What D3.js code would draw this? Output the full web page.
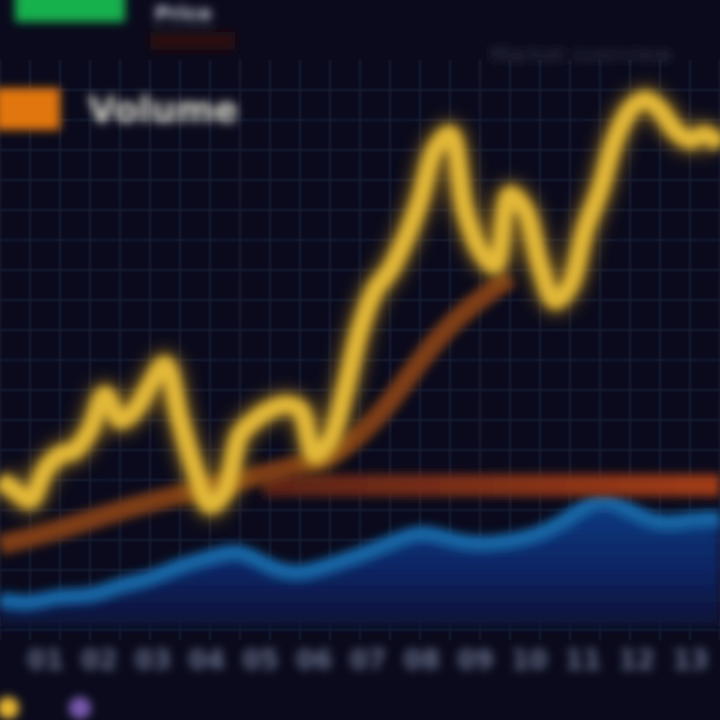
<!DOCTYPE html>
<html><head><meta charset="utf-8">
<script src="https://cdn.jsdelivr.net/npm/d3@7"></script>
<style>html,body{margin:0;padding:0;background:#08081a;}svg{display:block;}</style>
</head><body>
<script>
// ---- data ----
const priceValues = [33.3,31.9,30.6,34.7,36.8,37.5,40.3,45.1,41.7,43.1,46.5,49.3,41.7,34.7,29.9,31.9,39.6,41.7,43.1,43.8,43.1,36.8,38.9,45.8,54.2,59.7,62.5,66.7,72.2,79.2,81.3,70.8,65.3,63.2,72.9,70.8,63.2,58.3,60.4,68.1,73.6,80.6,84.7,86.1,84.7,81.9,80.6,81.3,79.9];
const maIndex = [0,4,8,12,16,20,22,24,26,28,30,32,34];
const maValues = [24.3,26.4,29.2,31.3,33.3,35.4,36.5,39.5,44.0,50.0,55.0,58.5,61.5];
const volIndex = [0,2,4,6,8,10,12,14,16,18,20,22,24,26,28,30,32,34,36,38,40,42,44,46,48];
const volValues = [16.7,16.0,17.4,17.0,18.8,19.5,21.5,22.5,23.9,21.0,20.1,21.5,22.9,24.5,26.4,25.0,24.3,24.8,25.7,28.0,31.3,29.0,27.0,27.8,28.0];
const levelValue = 32.6;
const levelRange = [17.5,48];
const tickLabels = ["01","02","03","04","05","06","07","08","09","10","11","12","13"];
const legendLabels = ["Price","MA","Volume"];

const W=720,H=720;
const svg=d3.select("body").append("svg").attr("width",W).attr("height",H);
const defs=svg.append("defs");
const mk=(id,sd)=>defs.append("filter").attr("id",id).attr("filterUnits","userSpaceOnUse")
  .attr("x",-50).attr("y",-50).attr("width",W+100).attr("height",H+100)
  .append("feGaussianBlur").attr("stdDeviation",sd);
mk("b1",1.2);mk("b3",3);mk("b5",5);mk("b8",8);
const g1=defs.append("linearGradient").attr("id","vol").attr("x1",0).attr("x2",0).attr("y1",0).attr("y2",1);
g1.append("stop").attr("offset","0%").attr("stop-color","#123a80");
g1.append("stop").attr("offset","55%").attr("stop-color","#0e2462");
g1.append("stop").attr("offset","100%").attr("stop-color","#0c1236");
const g2=defs.append("linearGradient").attr("id","lvl").attr("gradientUnits","userSpaceOnUse").attr("x1",250).attr("x2",720).attr("y1",0).attr("y2",0);
g2.append("stop").attr("offset","0%").attr("stop-color","#5a2218");
g2.append("stop").attr("offset","100%").attr("stop-color","#a23c14");

svg.append("rect").attr("width",W).attr("height",H).attr("fill","#0a0a1c");

const x=d3.scaleLinear().domain([0,priceValues.length-1]).range([0,W]);
const y=d3.scaleLinear().domain([0,100]).range([H,0]);

// grid
const grid=svg.append("g").attr("filter","url(#b1)").attr("stroke","#181b36").attr("stroke-width",2);
grid.selectAll(".v").data(d3.range(0,W+1,30)).join("line").attr("x1",d=>d).attr("x2",d=>d).attr("y1",60).attr("y2",640);
grid.selectAll(".h").data(d3.range(90,640,30)).join("line").attr("y1",d=>d).attr("y2",d=>d).attr("x1",0).attr("x2",W);

// volume area
const area=d3.area().x(d=>x(d[0])).y0(y(13)).y1(d=>y(d[1])).curve(d3.curveBasis);
const vd=volIndex.map((v,i)=>[v,volValues[i]]);
svg.append("path").datum(vd).attr("d",area).attr("fill","url(#vol)").attr("filter","url(#b5)");
svg.append("path").datum(vd).attr("d",d3.line().x(d=>x(d[0])).y(d=>y(d[1])).curve(d3.curveBasis))
  .attr("fill","none").attr("stroke","#1866a6").attr("stroke-width",16).attr("filter","url(#b5)");

// level line
svg.append("line").attr("x1",x(levelRange[0])).attr("x2",x(levelRange[1])).attr("y1",y(levelValue)).attr("y2",y(levelValue))
  .attr("stroke","url(#lvl)").attr("stroke-width",22).attr("filter","url(#b5)");

// MA line
const md=maIndex.map((v,i)=>[v,maValues[i]]);
svg.append("path").datum(md).attr("d",d3.line().x(d=>x(d[0])).y(d=>y(d[1])).curve(d3.curveBasis))
  .attr("fill","none").attr("stroke","#7e3e16").attr("stroke-width",20).attr("filter","url(#b5)");

// price line
const pl=d3.line().x((d,i)=>x(i)).y(d=>y(d)).curve(d3.curveCatmullRom);
svg.append("path").datum(priceValues).attr("d",pl).attr("fill","none").attr("stroke","#b88a1c").attr("stroke-width",30).attr("stroke-linejoin","round").attr("opacity",0.55).attr("filter","url(#b8)");
svg.append("path").datum(priceValues).attr("d",pl).attr("fill","none").attr("stroke","#e2b838").attr("stroke-width",17).attr("stroke-linejoin","round").attr("filter","url(#b5)");

// x axis labels
const xb=d3.scalePoint().domain(tickLabels).range([45,690]);
const ax=svg.append("g").attr("transform","translate(0,648)").attr("filter","url(#b5)").call(d3.axisBottom(xb).tickSize(0));
ax.select(".domain").remove();
ax.selectAll("text").attr("fill","#66708a").attr("font-size",26).attr("font-family","DejaVu Sans").attr("font-weight","bold");

// legend
const lg=svg.append("g").attr("filter","url(#b5)");
lg.append("rect").attr("x",15).attr("y",-12).attr("width",110).attr("height",34).attr("fill","#14b04e");
lg.append("text").attr("x",155).attr("y",20).attr("fill","#c8ccd8").attr("font-size",20).attr("font-family","DejaVu Sans").attr("font-weight","bold").text(legendLabels[0]);
lg.append("rect").attr("x",-5).attr("y",88).attr("width",65).attr("height",42).attr("fill","#e0760e");
lg.append("text").attr("x",88).attr("y",122).attr("fill","#d8d8cc").attr("font-size",36).attr("font-family","DejaVu Sans").attr("font-weight","bold").text(legendLabels[2]);
lg.append("rect").attr("x",150).attr("y",32).attr("width",85).attr("height",18).attr("fill","#2a0e0e");
lg.append("text").attr("x",490).attr("y",62).attr("fill","#34344a").attr("font-size",22).attr("font-family","DejaVu Sans").text("Market overview");
lg.append("circle").attr("cx",8).attr("cy",708).attr("r",11).attr("fill","#e8b830");
lg.append("circle").attr("cx",80).attr("cy",708).attr("r",11).attr("fill","#7a5ab0");
</script>
</body></html>
